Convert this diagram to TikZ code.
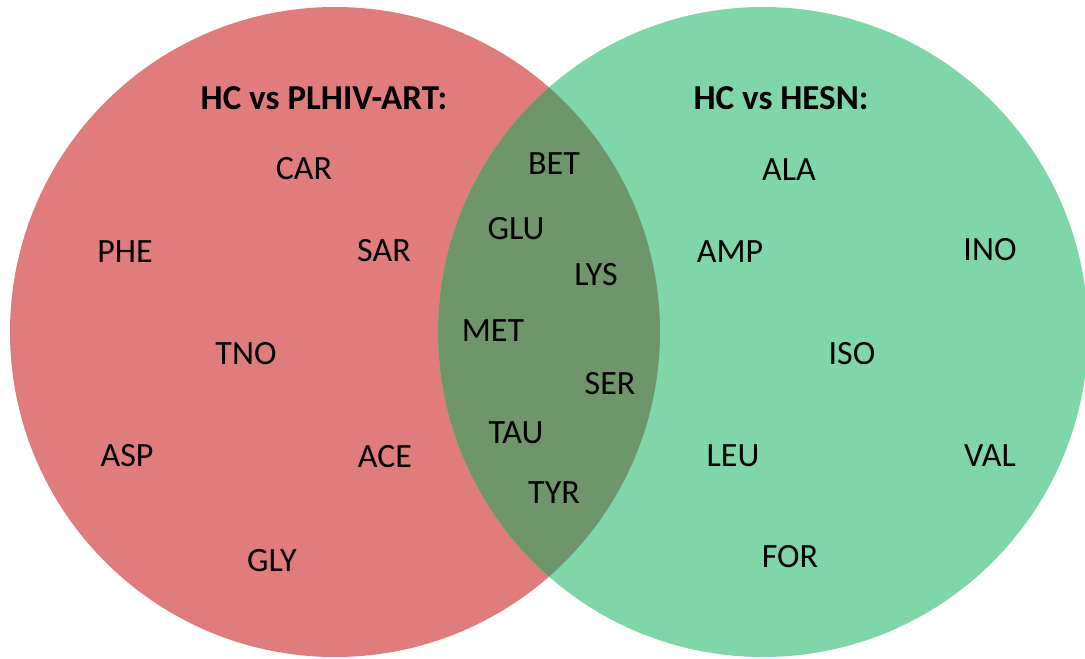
\documentclass[tikz,border=0pt]{standalone}
\usepackage{fontspec}
\setmainfont{Carlito}
\usepackage{xcolor}
\usetikzlibrary{positioning}
\definecolor{vennred}{HTML}{E07C7C}
\definecolor{venngreen}{HTML}{7FD6A8}
\definecolor{vennboth}{HTML}{6F966B}

\begin{document}
\begin{tikzpicture}[x=1pt,y=-1pt,
  lbl/.style={font=\fontsize{34}{40}\selectfont, inner sep=0pt},
  hdr/.style={font=\fontsize{35}{42}\selectfont\bfseries, inner sep=0pt}]
  \useasboundingbox (0,0) rectangle (1085,659);
  \def\R{325pt}
  \coordinate (cl) at (335,332);
  \coordinate (cr) at (763,332);
  \fill[vennred] (cl) circle (\R);
  \fill[venngreen] (cr) circle (\R);
  % overlap
  \begin{scope}
    \clip (cl) circle (\R);
    \fill[vennboth] (cr) circle (\R);
  \end{scope}
  \node[hdr] (hleft) at (324,98) {HC vs PLHIV-ART:};
  \node[hdr] (hright) at (781,98) {HC vs HESN:};
  \foreach \n/\x/\y in {CAR/304/169,PHE/125/252,SAR/384/251,TNO/246/354,
      ASP/127/456,ACE/385/457,GLY/272/561,
      BET/554/164,GLU/516/229,LYS/596/275,MET/493/331,SER/610/384,
      TAU/516/433,TYR/554/493,
      ALA/789/170,AMP/730/252,INO/990/250,ISO/852/354,LEU/733/456,
      VAL/990/456,FOR/790/557}{
     \node[lbl] (\n) at (\x,\y) {\n};
  }
\end{tikzpicture}
\end{document}
